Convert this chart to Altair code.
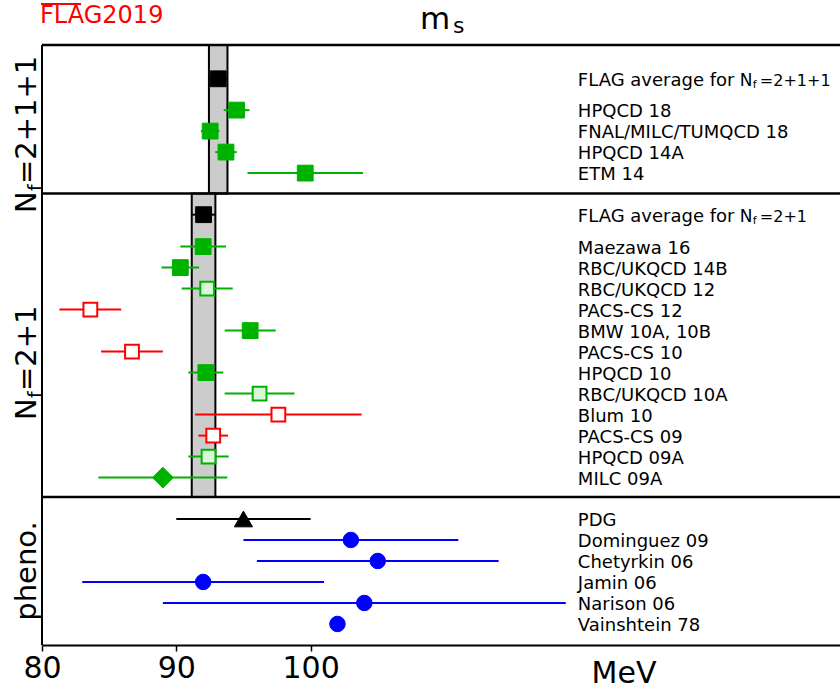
import altair as alt
import pandas as pd

# ---------------- data (MeV) ----------------
avg_4f = [93.12, 0.69]   # FLAG average Nf=2+1+1 (value, error)
names_4f = ["HPQCD 18", "FNAL/MILC/TUMQCD 18", "HPQCD 14A", "ETM 14"]
vals_4f = [94.49, 92.52, 93.7, 99.6]
errs_4f = [0.96, 0.69, 0.8, 4.3]
kind_4f = ["full", "full", "full", "full"]

avg_3f = [92.03, 0.88]   # FLAG average Nf=2+1
names_3f = ["Maezawa 16", "RBC/UKQCD 14B", "RBC/UKQCD 12", "PACS-CS 12",
            "BMW 10A, 10B", "PACS-CS 10", "HPQCD 10", "RBC/UKQCD 10A",
            "Blum 10", "PACS-CS 09", "HPQCD 09A", "MILC 09A"]
vals_3f = [92.0, 90.3, 92.3, 83.6, 95.5, 86.7, 92.2, 96.2, 97.6, 92.75, 92.4, 89.0]
errs_3f = [1.7, 1.4, 1.9, 2.3, 1.9, 2.3, 1.3, 2.6, 6.2, 1.1, 1.5, 4.8]
kind_3f = ["full", "full", "open", "red", "full", "red", "full", "open",
           "red", "red", "open", "diamond"]

names_ph = ["PDG", "Dominguez 09", "Chetyrkin 06", "Jamin 06", "Narison 06", "Vainshtein 78"]
vals_ph = [95.0, 103.0, 105.0, 92.0, 104.0, 102.0]
errs_ph = [5.0, 8.0, 9.0, 9.0, 15.0, 0.0]
kind_ph = ["pdg", "pheno", "pheno", "pheno", "pheno", "pheno"]

x_ticks = [80, 90, 100]

# ---------------- styles / layout ----------------
GREEN = "#00b200"
LIGHT = "#d9f7d9"
RED = "#ff0000"
BLUE = "#0000ff"
FONT = "DejaVu Sans"

STYLE = {
    "avg":     ("square", "black", "black", 250, 1, "black"),
    "full":    ("square", GREEN, GREEN, 250, 1, GREEN),
    "open":    ("square", LIGHT, GREEN, 190, 2, GREEN),
    "red":     ("square", "white", RED, 190, 2, RED),
    "diamond": ("diamond", GREEN, GREEN, 430, 1, GREEN),
    "pdg":     ("triangle-up", "black", "black", 330, 1, "black"),
    "pheno":   ("circle", BLUE, BLUE, 240, 1, BLUE),
}

W, H = 798, 600
ROW = 21.0
Y_MAX = H / ROW
X_MIN, X_MAX = 80, 80 + W / 13.43
LABEL_X = 119.9

# panel layout in row units: (start, avg offset, first entry offset, end)
P4 = (0.0, 1.61, 3.10, 7.07)
P3 = (7.07, 1.01, 2.53, 21.52)
PP = (21.52, None, 1.05, H / ROW)

recs = []
def add(names, vals, errs, kinds, panel):
    start, _, first, _ = panel
    for i, (n, v, e, k) in enumerate(zip(names, vals, errs, kinds)):
        shp, fill, stroke, size, sw, bar = STYLE[k]
        recs.append(dict(name=n, val=v, lo=v - e, hi=v + e, err=e,
                         row=start + first + i, shape=shp, fill=fill,
                         stroke=stroke, size=size, sw=sw, bar=bar))

add(names_4f, vals_4f, errs_4f, kind_4f, P4)
add(names_3f, vals_3f, errs_3f, kind_3f, P3)
add(names_ph, vals_ph, errs_ph, kind_ph, PP)
for avg, panel in ((avg_4f, P4), (avg_3f, P3)):
    shp, fill, stroke, size, sw, bar = STYLE["avg"]
    recs.append(dict(name="", val=avg[0], lo=avg[0] - avg[1], hi=avg[0] + avg[1],
                     err=avg[1], row=panel[0] + panel[1], shape=shp, fill=fill,
                     stroke=stroke, size=size, sw=sw, bar=bar))
df = pd.DataFrame(recs)

bands = pd.DataFrame(dict(lo=[avg_4f[0] - avg_4f[1], avg_3f[0] - avg_3f[1]],
                          hi=[avg_4f[0] + avg_4f[1], avg_3f[0] + avg_3f[1]],
                          y0=[P4[0], P3[0]], y1=[P4[3], P3[3]]))
seps = pd.DataFrame(dict(y=[P4[0], P3[0], PP[0]]))

avg_rows = [P4[0] + P4[1], P3[0] + P3[1]]
avg_lab = pd.DataFrame(dict(row=avg_rows,
                            pre=["FLAG average for ", "FLAG average for "],
                            n=["N", "N"], f=["f", "f"],
                            suf=["=2+1+1", "=2+1"]))

xs = alt.Scale(domain=[X_MIN, X_MAX], nice=False, zero=False)
ys = alt.Scale(domain=[0, Y_MAX], reverse=True, nice=False, zero=False)
xax = alt.Axis(values=x_ticks, title=None, grid=False, labelFontSize=30,
               labelFont=FONT, labelColor="black", domainColor="black",
               domainWidth=2, tickColor="black", tickWidth=1.5, tickSize=6,
               labelPadding=2, labelFlush=False)

def X(field, **kw):
    return alt.X(field, type="quantitative", scale=xs, axis=xax, **kw)

def Y(field, **kw):
    return alt.Y(field, type="quantitative", scale=ys, axis=None, **kw)

band_layer = alt.Chart(bands).mark_rect(fill="#cccccc", stroke="black", strokeWidth=2).encode(
    x=X("lo"), x2="hi", y=Y("y0"), y2="y1")

sep_layer = alt.Chart(seps).mark_rule(color="black", strokeWidth=2.5).encode(
    y=Y("y"), x=alt.value(0), x2=alt.value(W))

left_border = alt.Chart(seps.head(1)).mark_rule(color="black", strokeWidth=2).encode(
    x=alt.value(0), y=alt.value(0), y2=alt.value(H))

err_layer = alt.Chart(df[df.err > 0]).mark_rule(strokeWidth=2).encode(
    x=X("lo"), x2="hi", y=Y("row"),
    color=alt.Color("bar:N", scale=None))

pt_layer = alt.Chart(df).mark_point(filled=True, opacity=1).encode(
    x=X("val"), y=Y("row"),
    shape=alt.Shape("shape:N", scale=None),
    fill=alt.Fill("fill:N", scale=None),
    stroke=alt.Stroke("stroke:N", scale=None),
    size=alt.Size("size:Q", scale=None),
    strokeWidth=alt.StrokeWidth("sw:Q", scale=None))

lab_layer = alt.Chart(df[df.name != ""]).mark_text(
    align="left", baseline="middle", font=FONT, fontSize=18, color="black", dy=2).encode(
    x=alt.datum(LABEL_X, scale=xs), y=Y("row"), text="name:N")

def piece(field, dx, size, dy=2):
    return alt.Chart(avg_lab).mark_text(
        align="left", baseline="middle", font=FONT, fontSize=size, color="black",
        dx=dx, dy=dy).encode(x=alt.datum(LABEL_X, scale=xs), y=Y("row"), text=f"{field}:N")

avg_pieces = [piece("pre", 0, 18), piece("n", 162, 17), piece("f", 175, 11, 6),
              piece("suf", 182, 16)]

# ---- annotations: titles and panel labels ----
ann = pd.DataFrame(dict(a=[0]))
def txt(t, x, y, size, color="black", angle=0, align="left", dx=0, dy=0, baseline="alphabetic"):
    return alt.Chart(ann).mark_text(text=t, font=FONT, fontSize=size, color=color,
                                    angle=angle, align=align, baseline=baseline,
                                    dx=dx, dy=dy).encode(x=alt.value(x), y=alt.value(y))

annots = [
    txt("FLAG2019", -2, -22, 24, RED),
    alt.Chart(ann).mark_rule(color=RED, strokeWidth=2).encode(
        x=alt.value(-1), x2=alt.value(39), y=alt.value(-41)),
    txt("m", 378, -16, 31),
    txt("s", 411, -12, 22),
    txt("MeV", 582, 638, 30, align="center"),
    # Nf = 2+1+1 (rotated)
    txt("N", -6, 168, 29, angle=270),
    txt("f", -6, 168, 19, angle=270, dx=22, dy=6),
    txt("=2+1+1", -6, 168, 29, angle=270, dx=29),
    # Nf = 2+1
    txt("N", -6, 375, 29, angle=270),
    txt("f", -6, 375, 19, angle=270, dx=22, dy=6),
    txt("=2+1", -6, 375, 29, angle=270, dx=29),
    txt("pheno.", -6, 526, 29, angle=270, align="center"),
]

chart = alt.layer(band_layer, sep_layer, left_border, err_layer, pt_layer, lab_layer,
                  *avg_pieces, *annots).properties(
    width=W, height=H,
    autosize=alt.AutoSizeParams(type="none"),
    padding={"left": 42, "top": 45, "right": 0, "bottom": 46},
    background="white",
).configure_view(stroke=None)

chart.save("out.html", embed_options={"renderer": "svg", "actions": False})
